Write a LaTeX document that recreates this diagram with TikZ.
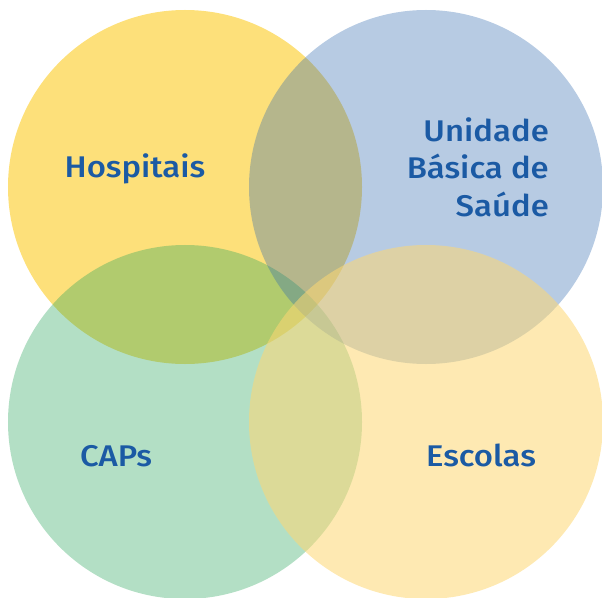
\documentclass[tikz,border=0pt]{standalone}
\usepackage{fontspec}
\setmainfont{Fira Sans}[UprightFont={* Medium}, FakeStretch=1.1]
\definecolor{ink}{RGB}{27,90,164}
\definecolor{sunyellow}{RGB}{253,224,122}
\definecolor{skyblue}{RGB}{49,106,175}
\definecolor{leafgreen}{RGB}{38,164,89}
\definecolor{paleyellow}{RGB}{253,215,115}
\tikzset{
  disc/.style={circle, minimum size=354bp, inner sep=0pt, draw=none},
  label/.style={text=ink, font=\fontsize{30}{37.5}\selectfont, inner sep=0pt}
}
\begin{document}
\begin{tikzpicture}[x=1bp, y=-1bp]
  \useasboundingbox (0,0) rectangle (602,598);
  \clip (0,0) rectangle (602,598);
  % four overlapping circles, bottom to top
  \node[disc, fill=sunyellow] (hosp) at (185,187) {};
  \node[disc, fill=leafgreen, fill opacity=0.35] (caps) at (185,422) {};
  \node[disc, fill=skyblue, fill opacity=0.35] (ubs) at (426,187) {};
  \node[disc, fill=paleyellow, fill opacity=0.55] (esc) at (426,422) {};
  % labels
  \node[label] (thosp) at (135,169) {Hospitais};
  \node[label, align=right, anchor=east] (tubs) at (549,167) {Unidade\\Básica de\\Saúde};
  \node[label] (tcaps) at (116,456) {CAPs};
  \node[label] (tesc) at (481,455) {Escolas};
\end{tikzpicture}
\end{document}
